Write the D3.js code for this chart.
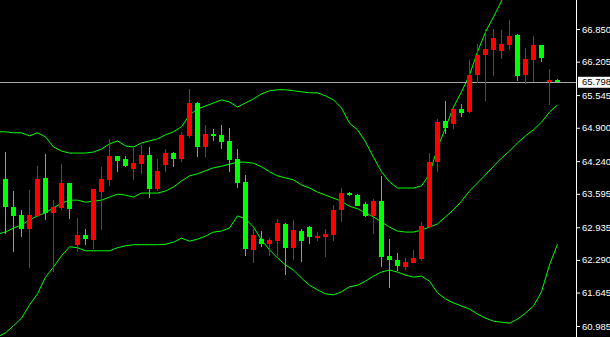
<!DOCTYPE html>
<html>
<head>
<meta charset="utf-8">
<script src="https://cdn.jsdelivr.net/npm/d3@7"></script>
<style>
  html, body { margin: 0; padding: 0; background: #000; overflow: hidden; }
  svg { display: block; }
  .tick text { font-family: "Liberation Sans", Arial, sans-serif; }
</style>
</head>
<body>
<div id="chart"></div>
<script>
// candles, oldest first (red = up bar, green = down bar)
const open = [
  63.89, 63.34, 63.18, 62.90, 63.16, 63.91, 63.22, 63.32, 63.81, 62.59,
  62.78, 62.68, 63.63, 63.87, 64.34, 64.28, 64.09, 64.18, 64.36, 63.69,
  64.16, 64.40, 64.28, 64.74, 65.39, 64.52, 64.78, 64.76, 64.64, 64.28,
  63.83, 62.49, 62.70, 62.60, 62.66, 63.00, 62.53, 62.86, 62.94, 62.72,
  62.74, 62.78, 63.28, 63.61, 63.57, 63.39, 63.16, 63.45, 62.37, 62.29,
  62.15, 62.23, 62.31, 62.94, 64.22, 65.03, 64.97, 65.27, 65.21, 65.94,
  66.34, 66.44, 66.42, 66.54, 66.73, 65.94, 66.24, 66.54, 65.82, 65.84
];
const high = [
  64.42, 63.65, 63.28, 63.67, 64.14, 64.38, 63.47, 64.18, 63.81, 63.12,
  62.90, 63.69, 64.13, 64.68, 64.34, 64.34, 64.54, 64.56, 64.52, 64.28,
  64.48, 64.42, 64.82, 65.67, 65.41, 64.95, 64.88, 64.95, 64.90, 64.48,
  63.97, 62.90, 62.86, 62.72, 63.10, 63.02, 63.08, 62.90, 62.96, 62.84,
  62.90, 63.37, 63.71, 63.63, 63.59, 63.43, 63.49, 63.95, 62.70, 62.43,
  62.33, 62.49, 63.04, 64.40, 65.07, 65.43, 65.29, 65.37, 66.24, 66.55,
  66.85, 66.85, 66.83, 67.03, 66.75, 66.48, 66.71, 66.54, 66.06, 65.86
];
const low = [
  62.80, 62.45, 62.74, 62.13, 63.16, 63.08, 62.05, 63.28, 63.10, 62.45,
  62.59, 62.51, 62.88, 63.75, 64.03, 64.13, 63.87, 63.99, 63.51, 63.65,
  64.03, 64.13, 64.22, 64.70, 64.32, 64.32, 64.64, 64.48, 64.03, 63.71,
  62.37, 62.23, 62.55, 62.37, 62.37, 61.99, 62.29, 62.25, 62.60, 62.66,
  62.35, 62.66, 63.04, 63.55, 63.36, 63.14, 62.80, 62.15, 61.74, 62.07,
  62.09, 62.23, 62.27, 62.94, 64.03, 64.78, 64.88, 65.11, 65.19, 65.78,
  65.43, 65.92, 66.26, 66.44, 65.82, 65.76, 65.80, 66.20, 65.35, 65.80
];
const close = [
  63.34, 63.16, 62.90, 63.18, 63.89, 63.22, 63.34, 63.81, 63.30, 62.78,
  62.70, 63.69, 63.89, 64.34, 64.24, 64.14, 64.20, 64.36, 63.69, 64.05,
  64.40, 64.28, 64.76, 65.39, 64.52, 64.78, 64.74, 64.62, 64.26, 63.81,
  62.51, 62.78, 62.60, 62.68, 63.02, 62.53, 62.88, 62.66, 62.74, 62.76,
  62.80, 63.28, 63.61, 63.57, 63.36, 63.16, 63.45, 62.35, 62.29, 62.17,
  62.25, 62.33, 62.96, 64.22, 65.01, 64.90, 65.27, 65.19, 65.94, 66.34,
  66.46, 66.67, 66.55, 66.71, 65.92, 66.26, 66.54, 66.28, 65.84, 65.798
];

// Bollinger bands, one value per bar starting one bar before the first candle
const bbUpper = [
  64.82,
  64.82, 64.80, 64.80, 64.74, 64.80, 64.72, 64.52, 64.44, 64.40, 64.40,
  64.40, 64.42, 64.48, 64.58, 64.64, 64.54, 64.52, 64.60, 64.64, 64.68,
  64.76, 64.82, 64.92, 65.15, 65.27, 65.33, 65.39, 65.45, 65.41, 65.31,
  65.39, 65.47, 65.57, 65.63, 65.65, 65.65, 65.63, 65.61, 65.59, 65.59,
  65.53, 65.45, 65.29, 64.99, 64.86, 64.62, 64.32, 64.03, 63.83, 63.71,
  63.71, 63.71, 63.75, 63.99, 64.50, 64.90, 65.31, 65.61, 65.94, 66.40,
  66.79, 67.09, 67.40, 67.80, 68.07, 68.27, 68.37, 68.41, 68.27, 68.09
];
const bbMiddle = [
  62.80,
  62.84, 62.92, 62.98, 63.08, 63.16, 63.22, 63.32, 63.41, 63.47, 63.47,
  63.43, 63.45, 63.47, 63.53, 63.59, 63.57, 63.53, 63.61, 63.61, 63.61,
  63.65, 63.73, 63.85, 63.95, 63.99, 64.05, 64.11, 64.14, 64.18, 64.22,
  64.22, 64.20, 64.13, 64.03, 63.95, 63.91, 63.87, 63.77, 63.71, 63.63,
  63.57, 63.51, 63.45, 63.35, 63.30, 63.22, 63.14, 63.04, 62.94, 62.86,
  62.84, 62.84, 62.88, 62.94, 63.00, 63.14, 63.28, 63.45, 63.65, 63.81,
  63.97, 64.14, 64.30, 64.44, 64.60, 64.74, 64.86, 65.01, 65.21, 65.35
];
const bbLower = [
  60.77,
  60.85, 60.99, 61.14, 61.40, 61.62, 61.95, 62.15, 62.37, 62.55, 62.53,
  62.47, 62.47, 62.47, 62.47, 62.53, 62.57, 62.59, 62.59, 62.59, 62.59,
  62.60, 62.64, 62.72, 62.66, 62.70, 62.76, 62.84, 62.86, 62.92, 63.16,
  63.10, 62.94, 62.68, 62.49, 62.33, 62.19, 62.09, 61.93, 61.79, 61.70,
  61.62, 61.60, 61.66, 61.76, 61.79, 61.87, 61.97, 62.05, 62.09, 62.05,
  61.99, 61.95, 61.97, 61.87, 61.64, 61.52, 61.44, 61.38, 61.32, 61.22,
  61.14, 61.08, 61.06, 61.04, 61.12, 61.24, 61.38, 61.66, 62.19, 62.60
];

const priceTicks = [66.850, 66.205, 65.545, 64.900, 64.240, 63.595, 62.935, 62.290, 61.645, 60.985];
const lastPrice = 65.798;

const width = 610, height = 337;
const axisX = 576;
const upColor = "#ff0000", downColor = "#00ff00", bandColor = "#00ff00";

const svg = d3.select("#chart").append("svg")
  .attr("width", width)
  .attr("height", height)
  .style("background", "#000");

const x = d3.scaleLinear().domain([0, 1]).range([5.5, 13.5]);
const y = d3.scaleLinear().domain([60.985, 66.85]).range([326, 29]);

svg.append("clipPath").attr("id", "plot")
  .append("rect").attr("width", axisX).attr("height", height);

const plot = svg.append("g").attr("clip-path", "url(#plot)");

// bands
const bandLine = d3.line()
  .x((d, i) => x(i - 1))
  .y((d) => y(d));

[bbUpper, bbMiddle, bbLower].forEach((band) => {
  plot.append("path")
    .datum(band)
    .attr("fill", "none")
    .attr("stroke", bandColor)
    .attr("stroke-width", 1)
    .attr("d", bandLine);
});

// last price line
plot.append("line")
  .attr("x1", 0).attr("x2", axisX)
  .attr("y1", Math.round(y(lastPrice)) + 0.5)
  .attr("y2", Math.round(y(lastPrice)) + 0.5)
  .attr("stroke", "#a8a8a8");

// candles
const bars = d3.range(open.length);
const candle = plot.append("g")
  .attr("shape-rendering", "crispEdges")
  .selectAll("g")
  .data(bars)
  .join("g")
  .attr("fill", (i) => (close[i] >= open[i] ? upColor : downColor))
  .attr("stroke", (i) => (close[i] >= open[i] ? upColor : downColor));

candle.append("line")
  .attr("x1", (i) => x(i)).attr("x2", (i) => x(i))
  .attr("y1", (i) => y(high[i])).attr("y2", (i) => y(low[i]));

candle.append("rect")
  .attr("stroke", "none")
  .attr("x", (i) => x(i) - 2.5)
  .attr("width", 5)
  .attr("y", (i) => y(Math.max(open[i], close[i])))
  .attr("height", (i) => Math.max(1.5, Math.abs(y(open[i]) - y(close[i]))));

// price axis
svg.append("line")
  .attr("x1", axisX + 0.5).attr("x2", axisX + 0.5)
  .attr("y1", 0).attr("y2", height)
  .attr("stroke", "#fff");

svg.append("g")
  .attr("transform", `translate(${axisX + 1},0)`)
  .call(
    d3.axisRight(y)
      .tickValues(priceTicks)
      .tickFormat(d3.format(".3f"))
      .tickSize(3)
      .tickPadding(2)
  )
  .call((g) => g.select(".domain").remove())
  .call((g) => g.selectAll(".tick line").attr("stroke", "#fff"))
  .call((g) => g.selectAll(".tick text")
    .attr("fill", "#fff")
    .attr("font-size", "9.5px"));

// last price label
const ly = y(lastPrice);
svg.append("rect")
  .attr("x", axisX + 2).attr("y", ly - 5.5)
  .attr("width", width - axisX - 2).attr("height", 11)
  .attr("fill", "#fff");
svg.append("text")
  .attr("x", axisX + 6).attr("y", ly)
  .attr("dy", "0.32em")
  .attr("fill", "#000")
  .attr("font-family", "Liberation Sans, Arial, sans-serif")
  .attr("font-size", "9.5px")
  .text(d3.format(".3f")(lastPrice));
</script>
</body>
</html>
